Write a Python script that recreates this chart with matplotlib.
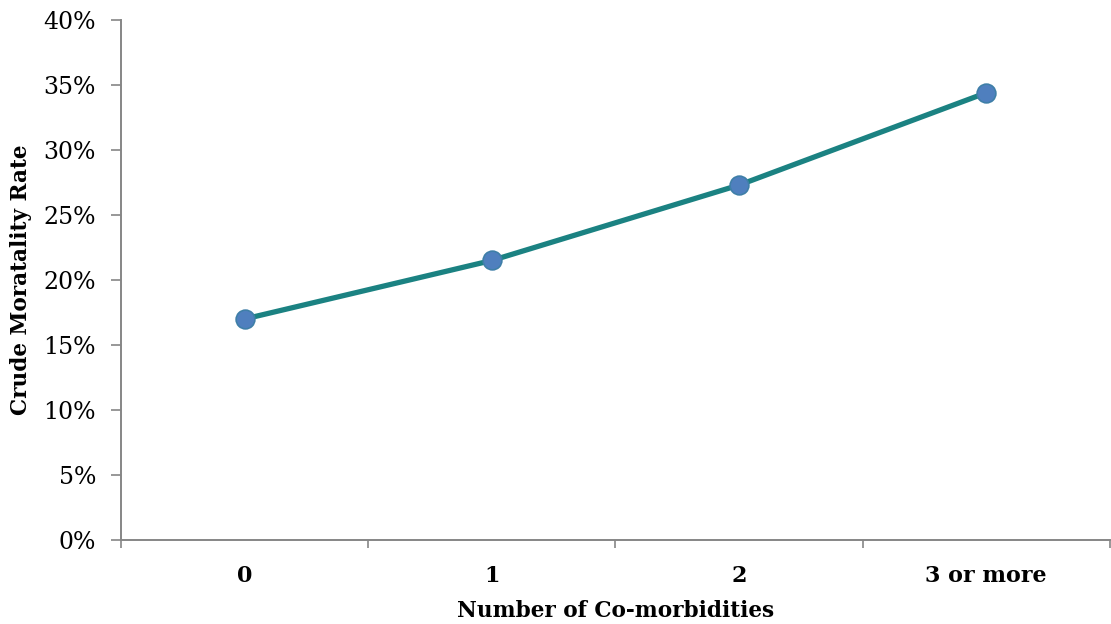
import matplotlib
matplotlib.use('Agg')

import matplotlib.pyplot as plt
from matplotlib.ticker import PercentFormatter, FixedLocator

# === data ===
categories = ['0', '1', '2', '3 or more']
mortality = [17.0, 21.5, 27.3, 34.4]

axis_grey = '#868686'
line_teal = '#1B8282'
marker_blue = '#4F7FBE'

plt.rcParams['font.family'] = ['DejaVu Serif']

fig = plt.figure(figsize=(11.11, 6.24), dpi=100)
ax = fig.add_axes([0.1089, 0.1346, 0.8901, 0.8334])

x = list(range(len(categories)))
ax.plot(x, mortality, color=line_teal, linewidth=3.8, zorder=2)
ax.plot(x, mortality, 'o', markersize=13.5, markerfacecolor=marker_blue,
        markeredgecolor='#3F7FA8', markeredgewidth=1.2, zorder=3)

ax.set_xlim(-0.5, len(categories) - 0.5)
ax.set_ylim(0, 40)
ax.yaxis.set_major_locator(FixedLocator(range(0, 41, 5)))
ax.yaxis.set_major_formatter(PercentFormatter(decimals=0))

# category labels centred, tick marks on the boundaries
ax.set_xticks(x)
ax.set_xticklabels(categories, fontweight='bold', fontsize=16)
ax.tick_params(axis='x', which='major', length=0, pad=18)
ax.set_xticks([i - 0.5 for i in range(len(categories) + 1)], minor=True)
ax.tick_params(axis='x', which='minor', length=6, width=1.2, color=axis_grey, direction='out')
ax.tick_params(axis='y', length=7, width=1.2, color=axis_grey, labelsize=17, pad=11)

for side in ['top', 'right']:
    ax.spines[side].set_visible(False)
for side in ['left', 'bottom']:
    ax.spines[side].set_color(axis_grey)
    ax.spines[side].set_linewidth(1.4)

ax.set_xlabel('Number of Co-morbidities', fontweight='bold', fontsize=15.6, labelpad=9)
ax.set_ylabel('Crude Moratality Rate', fontweight='bold', fontsize=15.6, labelpad=8)

fig.savefig('out.png', dpi=100)
